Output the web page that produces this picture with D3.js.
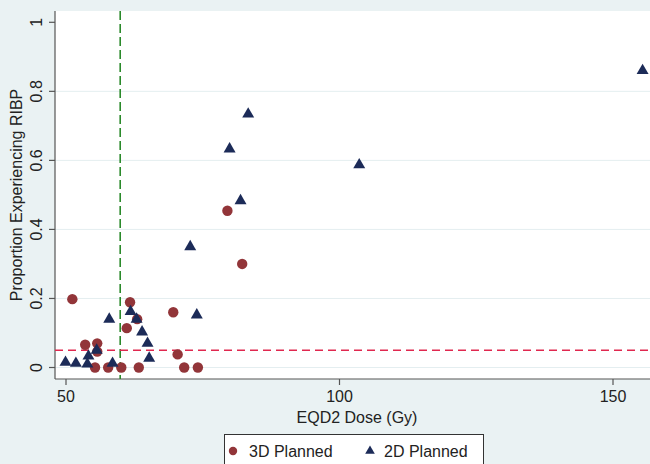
<!DOCTYPE html>
<html lang="en">
<head>
<meta charset="UTF-8">
<title>RIBP vs EQD2</title>
<style>
  body { margin:0; background:#eaf2f3; }
  svg { display:block; font-family:"Liberation Sans", Arial, sans-serif; }
</style>
</head>
<body>
<svg id="CHART" width="650" height="464"></svg>
<script src="https://cdnjs.cloudflare.com/ajax/libs/d3/7.8.5/d3.min.js"></script>
<script>
// 3D planned (circles)
const dose3D = [51.25, 53.6, 55.8, 55.8, 55.4, 57.8, 60.2, 61.8, 61.2, 63.1, 63.4, 69.7, 70.5, 71.7, 74.2, 79.6, 82.3];
const prop3D = [0.198, 0.066, 0.070, 0.046, 0, 0, 0, 0.189, 0.114, 0.140, 0, 0.160, 0.038, 0, 0, 0.454, 0.300];
// 2D planned (triangles)
const dose2D = [50.0, 51.9, 54.0, 54.2, 55.7, 58.0, 58.6, 61.9, 63.0, 64.0, 65.0, 65.3, 74.0, 72.8, 82.0, 80.0, 83.4, 103.7, 155.5];
const prop2D = [0.015, 0.012, 0.010, 0.033, 0.050, 0.140, 0.012, 0.162, 0.140, 0.103, 0.070, 0.027, 0.152, 0.350, 0.483, 0.633, 0.734, 0.587, 0.860];

const xTicks = [50, 100, 150];
const yTicks = [0, 0.2, 0.4, 0.6, 0.8, 1];
const doseCut = 60;
const propCut = 0.05;
const seriesNames = ["3D Planned", "2D Planned"];

var svg = d3.select("#CHART");
var W = 650, H = 464;
var plot = { left: 55, top: 11, right: 650, bottom: 379 };

var x = d3.scaleLinear().domain([50, 150]).range([65.5, 612.5]);
var y = d3.scaleLinear().domain([0, 1]).range([367.5, 22.3]);

var red = "#923539", navy = "#1c2b58";

svg.append("rect").attr("width", W).attr("height", H).attr("fill", "#eaf2f3");
svg.append("rect")
   .attr("x", plot.left).attr("y", plot.top)
   .attr("width", plot.right - plot.left).attr("height", plot.bottom - plot.top)
   .attr("fill", "#fff");

// gridlines
svg.append("g").selectAll("line")
   .data(yTicks.filter(function(d){ return d < 1; }))
   .join("line")
   .attr("x1", plot.left).attr("x2", plot.right)
   .attr("y1", function(d){ return y(d); }).attr("y2", function(d){ return y(d); })
   .attr("stroke", "#e4eef0").attr("stroke-width", 1);

// axes
var yAxis = svg.append("g")
   .attr("transform", "translate(" + plot.left + ",0)")
   .call(d3.axisLeft(y).tickValues(yTicks).tickSize(6)
        .tickFormat(function(d){ return d === 0 || d === 1 ? d3.format("d")(d) : d3.format(".1f")(d); }));
yAxis.select(".domain").attr("d", "M0," + plot.top + "V" + plot.bottom);
yAxis.selectAll(".tick").attr("transform", null);
yAxis.selectAll(".tick line").attr("y1", function(d){ return y(d); }).attr("y2", function(d){ return y(d); });
yAxis.selectAll("text")
   .attr("font-size", 16).attr("fill", "#222")
   .attr("x", 0).attr("y", 0).attr("dy", 0)
   .attr("transform", function(d){ return "translate(-13," + y(d) + ") rotate(-90)"; })
   .attr("text-anchor", "middle");

var xAxis = svg.append("g")
   .attr("transform", "translate(0," + plot.bottom + ")")
   .call(d3.axisBottom(x).tickValues(xTicks).tickSize(6).tickPadding(6));
xAxis.select(".domain").attr("d", "M" + plot.left + ",0H" + plot.right);
xAxis.selectAll("text").attr("font-size", 16).attr("fill", "#222");

svg.selectAll(".domain, .tick line").attr("stroke", "#555").attr("stroke-width", 1.2);

// axis titles
svg.append("text")
   .attr("x", 357).attr("y", 423)
   .attr("text-anchor", "middle").attr("font-size", 16).attr("fill", "#222")
   .text("EQD2 Dose (Gy)");
svg.append("text")
   .attr("transform", "translate(22,195) rotate(-90)")
   .attr("text-anchor", "middle").attr("font-size", 16).attr("fill", "#222")
   .text("Proportion Experiencing RIBP");

// reference lines
svg.append("line")
   .attr("x1", x(doseCut)).attr("x2", x(doseCut))
   .attr("y1", plot.top).attr("y2", plot.bottom)
   .attr("stroke", "#2b8a2b").attr("stroke-width", 1.6).attr("stroke-dasharray", "9,4");
svg.append("line")
   .attr("x1", plot.left).attr("x2", plot.right)
   .attr("y1", y(propCut)).attr("y2", y(propCut))
   .attr("stroke", "#e0284f").attr("stroke-width", 1.6).attr("stroke-dasharray", "8,5");

// points
svg.append("g").selectAll("circle")
   .data(d3.range(dose3D.length))
   .join("circle")
   .attr("cx", function(i){ return x(dose3D[i]); })
   .attr("cy", function(i){ return y(prop3D[i]); })
   .attr("r", 5.2)
   .attr("fill", red);

var tri = d3.symbol().type(d3.symbolTriangle).size(62);
svg.append("g").selectAll("path")
   .data(d3.range(dose2D.length))
   .join("path")
   .attr("d", tri)
   .attr("transform", function(i){ return "translate(" + x(dose2D[i]) + "," + y(prop2D[i]) + ")"; })
   .attr("fill", navy);

// legend
var lg = svg.append("g");
lg.append("rect")
  .attr("x", 224.5).attr("y", 434.5).attr("width", 259).attr("height", 40)
  .attr("fill", "#fff").attr("stroke", "#333").attr("stroke-width", 1);
lg.append("circle").attr("cx", 233).attr("cy", 451).attr("r", 4.2).attr("fill", red);
lg.append("text").attr("x", 249).attr("y", 457).attr("font-size", 16).attr("fill", "#222").text(seriesNames[0]);
lg.append("path").attr("d", d3.symbol().type(d3.symbolTriangle).size(40))
  .attr("transform", "translate(370,451)").attr("fill", navy);
lg.append("text").attr("x", 384).attr("y", 457).attr("font-size", 16).attr("fill", "#222").text(seriesNames[1]);
</script>
</body>
</html>
